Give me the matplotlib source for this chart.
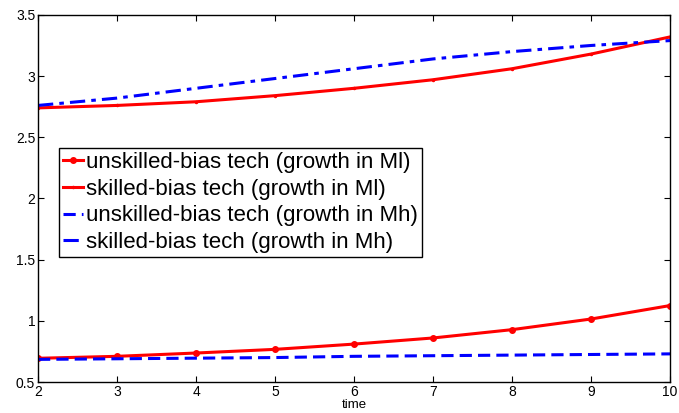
import matplotlib
matplotlib.use('Agg')
import matplotlib.pyplot as plt

plt.rcParams['font.family'] = ['Liberation Sans', 'DejaVu Sans']

time = [2, 3, 4, 5, 6, 7, 8, 9, 10]
unskilled_ml = [0.694, 0.71, 0.737, 0.767, 0.81, 0.86, 0.928, 1.015, 1.125]
skilled_ml = [2.74, 2.76, 2.79, 2.84, 2.90, 2.97, 3.06, 3.18, 3.32]
unskilled_mh = [0.685, 0.69, 0.695, 0.70, 0.71, 0.715, 0.72, 0.725, 0.73]
skilled_mh = [2.76, 2.82, 2.90, 2.98, 3.06, 3.14, 3.20, 3.25, 3.29]

labels = ['unskilled-bias tech (growth in Ml)',
          'skilled-bias tech (growth in Ml)',
          'unskilled-bias tech (growth in Mh)',
          'skilled-bias tech (growth in Mh)']

fig = plt.figure(figsize=(6.79, 4.13), dpi=100)
ax = fig.add_axes([0.056, 0.075, 0.931, 0.889])

ax.plot(time, unskilled_ml, color='red', lw=2.2, marker='o', ms=4, label=labels[0])
ax.plot(time, skilled_ml, color='red', lw=2.2, marker='.', ms=3, label=labels[1])
ax.plot(time, unskilled_mh, color='blue', lw=2.2, ls='--', dashes=(4, 2), label=labels[2])
ax.plot(time, skilled_mh, color='blue', lw=2.2, ls='-.', dashes=(5, 2, 1.5, 2), label=labels[3])

ax.set_xlim(2, 10)
ax.set_ylim(0.5, 3.5)
ax.set_xticks(time)
ax.set_yticks([0.5, 1, 1.5, 2, 2.5, 3, 3.5])
ax.set_yticklabels(['0.5', '1', '1.5', '2', '2.5', '3', '3.5'])
ax.tick_params(direction='in', top=True, right=True, labelsize=10, length=4, pad=2)
for s in ax.spines.values():
    s.set_linewidth(1)
ax.set_xlabel('time', fontsize=9.5, labelpad=0)

leg = ax.legend(loc='upper left', bbox_to_anchor=(0.033, 0.638), borderaxespad=0,
                fontsize=16, handlelength=0.9, handletextpad=0.1, labelspacing=0.25,
                borderpad=0.2, fancybox=False, framealpha=1)
leg.get_frame().set_edgecolor('black')
leg.get_frame().set_linewidth(1)

fig.savefig('out.png', dpi=100)
